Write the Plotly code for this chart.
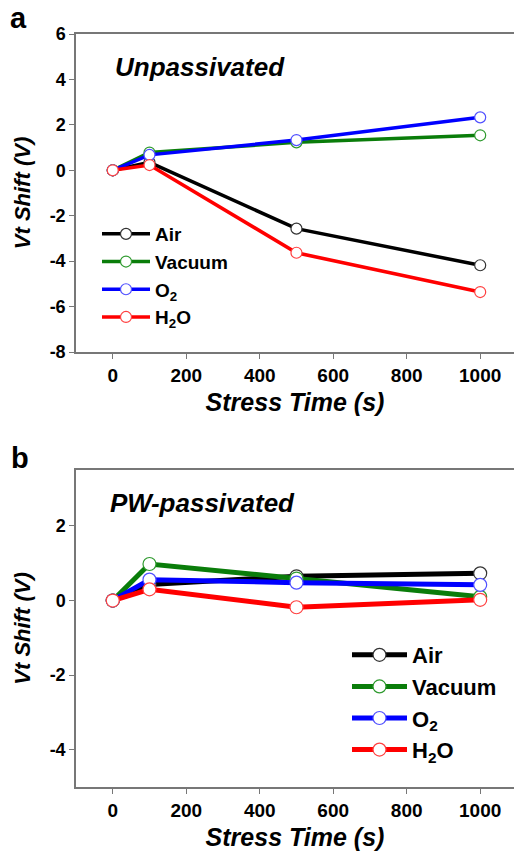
import plotly.graph_objects as go

# ---- data ----
stress_time = [0, 100, 500, 1000]
series_names = ["Air", "Vacuum", "O<sub>2</sub>", "H<sub>2</sub>O"]
colors = ["#000000", "#0a7d0a", "#0000ff", "#ff0000"]
marker_edges = ["#333333", "#2e9a2e", "#5050ff", "#ff4040"]

# Panel a: Unpassivated
a_air = [0, 0.35, -2.57, -4.18]
a_vacuum = [0, 0.78, 1.23, 1.54]
a_o2 = [0, 0.68, 1.33, 2.33]
a_h2o = [0, 0.23, -3.63, -5.36]

# Panel b: PW-passivated
b_air = [0, 0.43, 0.65, 0.73]
b_vacuum = [0, 0.98, 0.59, 0.10]
b_o2 = [0, 0.56, 0.48, 0.42]
b_h2o = [0, 0.30, -0.18, 0.02]

x_ticks = [0, 200, 400, 600, 800, 1000]
ya_ticks = [6, 4, 2, 0, -2, -4, -6, -8]
yb_ticks = [2, 0, -2, -4]

FONT = "Arial, 'Liberation Sans', sans-serif"
W, H = 514, 854

fig = go.Figure()

a_series = [a_air, a_vacuum, a_o2, a_h2o]
b_series = [b_air, b_vacuum, b_o2, b_h2o]

for name, ys, c, e in zip(series_names, a_series, colors, marker_edges):
    fig.add_trace(go.Scatter(
        x=stress_time, y=ys, name=name, mode="lines+markers",
        line=dict(color=c, width=3.5),
        marker=dict(symbol="circle", size=11, color="white", line=dict(color=e, width=1.2)),
        xaxis="x", yaxis="y", legend="legend", cliponaxis=False,
    ))

for name, ys, c, e in zip(series_names, b_series, colors, marker_edges):
    fig.add_trace(go.Scatter(
        x=stress_time, y=ys, name=name, mode="lines+markers",
        line=dict(color=c, width=5),
        marker=dict(symbol="circle", size=13, color="white", line=dict(color=e, width=1.2)),
        xaxis="x2", yaxis="y2", legend="legend2", cliponaxis=False,
    ))

px_x0 = 76
xdom = [px_x0 / W, 1.0]
ya_dom = [1 - 352 / H, 1 - 34 / H]
yb_dom = [1 - 787 / H, 1 - 470 / H]

axis_common = dict(
    showline=True, linecolor="#777777", linewidth=1.5,
    ticks="outside", ticklen=5, tickwidth=1.2, tickcolor="#777777",
    showgrid=False, zeroline=False,
)

def bold(vals):
    return ["<b>%g</b>" % v for v in vals]

xcommon = dict(
    range=[-100, 1092], tickvals=x_ticks, ticktext=bold(x_ticks), mirror=True,
    tickfont=dict(family=FONT, size=19, color="black", weight="bold"),
    title=dict(text="<b><i>Stress Time (s)</i></b>", font=dict(family=FONT, size=25, color="black"), standoff=9),
    **axis_common,
)

def ycommon(ticks):
    return dict(
        tickvals=ticks, ticktext=bold(ticks),
        tickfont=dict(family=FONT, size=18, color="black", weight="bold"),
        title=dict(text="<b><i>Vt Shift (V)</i></b>", font=dict(family=FONT, size=22, color="black"), standoff=13),
        **axis_common,
    )

fig.update_layout(
    width=W, height=H,
    margin=dict(l=0, r=0, t=0, b=0, autoexpand=False),
    paper_bgcolor="white", plot_bgcolor="white",
    font=dict(family=FONT, color="black"),
    xaxis=dict(domain=xdom, anchor="y", **xcommon),
    yaxis=dict(domain=ya_dom, anchor="x", range=[-8, 6], **ycommon(ya_ticks)),
    xaxis2=dict(domain=xdom, anchor="y2", **xcommon),
    yaxis2=dict(domain=yb_dom, anchor="x2", range=[-5, 3.5], **ycommon(yb_ticks)),
    legend=dict(
        x=97 / W, y=1 - 215 / H, xanchor="left", yanchor="top",
        bgcolor="rgba(0,0,0,0)", itemwidth=48, tracegroupgap=0,
        font=dict(family=FONT, size=19, color="black", weight="bold"),
    ),
    legend2=dict(
        x=347 / W, y=1 - 634 / H, xanchor="left", yanchor="top",
        bgcolor="rgba(0,0,0,0)", itemwidth=55, tracegroupgap=0,
        font=dict(family=FONT, size=22, color="black", weight="bold"),
    ),
    showlegend=True,
)

annotations = [
    dict(text="<b>a</b>", x=18 / W, y=1 - 18 / H, xref="paper", yref="paper",
         xanchor="center", yanchor="middle",
         showarrow=False, font=dict(family=FONT, size=29, color="black")),
    dict(text="<b>b</b>", x=20 / W, y=1 - 458 / H, xref="paper", yref="paper",
         xanchor="center", yanchor="middle",
         showarrow=False, font=dict(family=FONT, size=29, color="black")),
    dict(text="<b><i>Unpassivated</i></b>", x=113 / W, y=1 - 67 / H, xref="paper", yref="paper",
         xanchor="left", yanchor="middle", showarrow=False, font=dict(family=FONT, size=26, color="black")),
    dict(text="<b><i>PW-passivated</i></b>", x=108 / W, y=1 - 503 / H, xref="paper", yref="paper",
         xanchor="left", yanchor="middle", showarrow=False, font=dict(family=FONT, size=26, color="black")),
]
fig.update_layout(annotations=annotations)

fig.write_html("out.html")
